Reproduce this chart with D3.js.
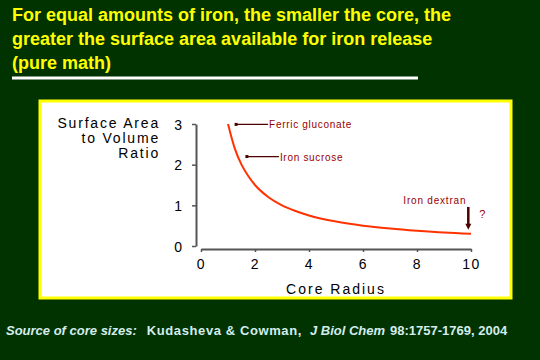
<!DOCTYPE html>
<html><head><meta charset="utf-8">
<script src="https://cdn.jsdelivr.net/npm/d3@7"></script>
<style>
html,body{margin:0;padding:0;background:#003300;}
svg{display:block;}
</style></head>
<body>
<svg id="c" width="540" height="360"></svg>
<script>
// ---- data ----
const titleLines = ["For equal amounts of iron, the smaller the core, the",
                    "greater the surface area available for iron release",
                    "(pure math)"];
const radius = [1, 1.25, 1.5, 1.75, 2, 2.5, 3, 3.5, 4, 5, 6, 7, 8, 9, 10];
const ratio  = [3, 2.4, 2.0, 1.72, 1.5, 1.2, 1.0, 0.86, 0.75, 0.6, 0.5, 0.43, 0.375, 0.33, 0.3];
const xTicks = [0, 2, 4, 6, 8, 10];
const yTicks = [0, 1, 2, 3];
const yLabelLines = ["Surface Area", "to Volume", "Ratio"];
const xLabel = "Core Radius";
const annoLabels = ["Ferric gluconate", "Iron sucrose"];
const annoR = [1.3, 1.7];
const annoV = [2.99, 2.2];
const arrowLabel = "Iron dextran";
const arrowR = 9.9;
const arrowV = [0.96, 0.4];

const svg = d3.select("#c");
svg.append("rect").attr("width",540).attr("height",360).attr("fill","#003300");

// title
const t = svg.append("text").attr("font-family","Liberation Sans, Arial, sans-serif")
  .attr("font-weight","bold").attr("font-size",18).attr("fill","#ffff00");
titleLines.forEach((s,i)=>t.append("tspan").attr("x",12).attr("y",21+i*24).text(s));
svg.append("rect").attr("x",12).attr("y",76.5).attr("width",406).attr("height",3).attr("fill","#ffffff");

// panel
svg.append("rect").attr("x",40).attr("y",101).attr("width",471).attr("height",197)
  .attr("fill","#ffffff").attr("stroke","#ffff00").attr("stroke-width",3);

const x = d3.scaleLinear().domain([0,10]).range([201,471]);
const y = d3.scaleLinear().domain([0,3]).range([246,124]);

const font = "Liberation Sans, Arial, sans-serif";

// y axis
const ya = svg.append("g").attr("transform","translate(196,0)")
  .call(d3.axisLeft(y).tickValues(yTicks).tickSize(4).tickSizeOuter(0).tickPadding(10).tickFormat(d3.format("d")));
ya.select(".domain").attr("stroke","#555555").attr("stroke-width",2);
ya.selectAll(".tick line").attr("stroke","#555555").attr("stroke-width",1.5);
ya.selectAll(".tick text").attr("font-family",font).attr("font-size",14).attr("fill","#000").attr("dy","0.36em");

// x axis
const xa = svg.append("g").attr("transform","translate(0,249)")
  .call(d3.axisBottom(x).tickValues(xTicks).tickSize(3).tickSizeOuter(0).tickPadding(7));
xa.select(".domain").attr("stroke","#555555").attr("stroke-width",2);
xa.selectAll(".tick line").attr("stroke","#555555").attr("stroke-width",1.5);
xa.selectAll(".tick text").attr("font-family",font).attr("font-size",14).attr("fill","#000")
  .attr("letter-spacing","1.5px");

// axis titles
svg.append("text").attr("x",336).attr("y",294).attr("text-anchor","middle")
  .attr("font-family",font).attr("font-size",14).attr("letter-spacing","2px").attr("fill","#000").text(xLabel);
const yl = svg.append("text").attr("text-anchor","end").attr("font-family",font)
  .attr("font-size",14).attr("letter-spacing","1.8px").attr("fill","#000");
yLabelLines.forEach((s,i)=>yl.append("tspan").attr("x",160).attr("y",128+i*15).text(s));

// curve
const pts = radius.map((r,i)=>[r, ratio[i]]);
svg.append("path").datum(pts)
  .attr("d", d3.line().x(d=>x(d[0])).y(d=>y(d[1])).curve(d3.curveMonotoneX))
  .attr("fill","none").attr("stroke","#ff3300").attr("stroke-width",2);

// annotations
annoLabels.forEach((lab,i)=>{
  const px = x(annoR[i]), py = y(annoV[i]);
  svg.append("line").attr("x1",px).attr("y1",py).attr("x2",px+32).attr("y2",py)
    .attr("stroke","#4d0000").attr("stroke-width",1.3);
  svg.append("rect").attr("x",px-1.5).attr("y",py-1.5).attr("width",3).attr("height",3).attr("fill","#4d0000");
  svg.append("text").attr("x",px+33).attr("y",py+4).attr("font-family",font).attr("font-size",10)
    .attr("letter-spacing","0.7px").attr("fill","#990000").text(lab);
});

// Iron dextran arrow
const ax = x(arrowR);
svg.append("line").attr("x1",ax).attr("x2",ax).attr("y1",y(arrowV[0])).attr("y2",y(arrowV[1])-5)
  .attr("stroke","#4d0000").attr("stroke-width",2.5);
svg.append("path").attr("d",`M${ax-3},${y(arrowV[1])-6} L${ax+3},${y(arrowV[1])-6} L${ax},${y(arrowV[1])}Z`)
  .attr("fill","#4d0000");
svg.append("text").attr("x",ax-2).attr("y",y(arrowV[0])-3).attr("text-anchor","end")
  .attr("font-family",font).attr("font-size",10).attr("letter-spacing","0.8px").attr("fill","#990000").text(arrowLabel);
svg.append("text").attr("x",ax+11).attr("y",y(arrowV[0])+11)
  .attr("font-family",font).attr("font-size",11).attr("fill","#990000").text("?");

// footer
const f = svg.append("text").attr("x",6).attr("y",335).attr("font-family",font)
  .attr("font-size",13).attr("font-weight","bold").attr("fill","#d4ecec");
f.append("tspan").attr("font-style","italic").text("Source of core sizes:");
f.append("tspan").attr("dx",10).attr("letter-spacing","0.6px").text("Kudasheva & Cowman,");
f.append("tspan").attr("dx",8).attr("font-style","italic").text("J Biol Chem");
f.append("tspan").attr("dx",5).text("98:1757-1769, 2004");
</script>
</body></html>
